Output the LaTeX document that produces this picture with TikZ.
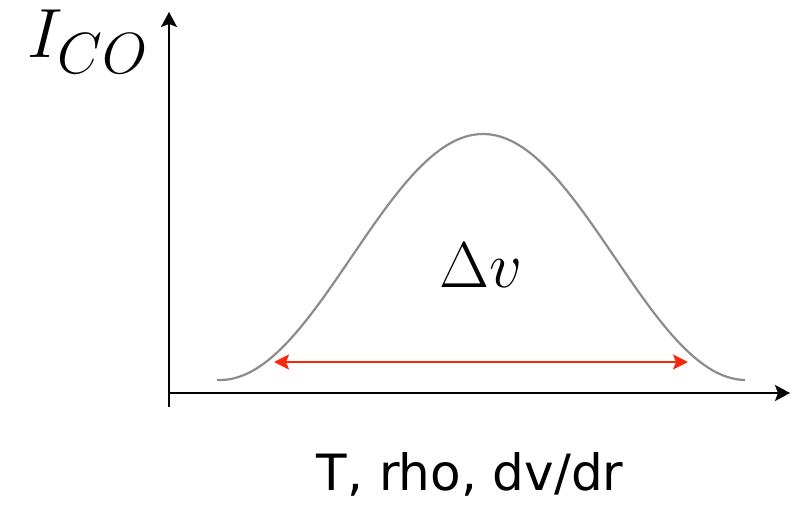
\documentclass[tikz,border=0pt]{standalone}
\usepackage{amsmath}
\usepackage{fontspec}
\usetikzlibrary{arrows.meta}
\newfontfamily\labelfont{DejaVu Sans}

\begin{document}
\begin{tikzpicture}[x=0.5pt, y=-0.5pt,
    axis/.style={line width=1pt, -{Stealth[length=7.5pt, width=8pt, inset=1.5pt]}},
    width/.style={draw={rgb,255:red,250;green,40;blue,10}, line width=1pt,
        {Stealth[length=7.5pt, width=7.5pt, inset=1.5pt]}-{Stealth[length=7.5pt, width=7.5pt, inset=1.5pt]}}]
    \useasboundingbox (0, 0) rectangle (793, 518);

    % Axes
    \coordinate (O) at (169, 393);
    \coordinate (Yfoot) at (169, 407);
    \coordinate (Ytip) at (169, 12);
    \coordinate (Xtip) at (790, 393);
    \draw[axis] (Yfoot) -- (Ytip);
    \draw[axis] (O) -- (Xtip);

    % Labels
    \node[font=\Huge, scale=1.4] (ylab) at (88, 42) {$I_{CO}$};
    \node[font=\Huge, scale=1.3] (dv) at (481, 265) {$\Delta v$};
    \node (xlab) at (470, 474) {\labelfont\fontsize{25}{30}\selectfont T, rho, dv/dr};

    % Line profile
    \draw[line width=1.1pt, gray!90] plot[domain=217:745, samples=120, smooth]
        (\x, {257 - 123*cos(0.6844*(\x-483))});

    % Line width
    \coordinate (L) at (274, 362);
    \coordinate (R) at (688, 362);
    \draw[width] (L) -- (R);
\end{tikzpicture}
\end{document}
